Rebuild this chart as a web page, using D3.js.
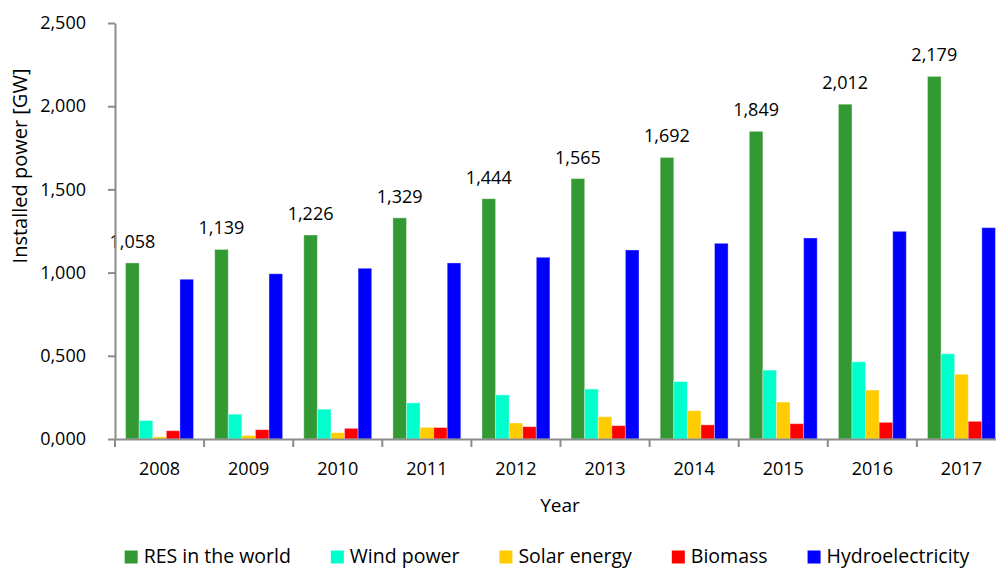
<!DOCTYPE html>
<html>
<head>
<meta charset="utf-8">
<script src="https://cdn.jsdelivr.net/npm/d3@7"></script>
<style>
  html, body { margin: 0; padding: 0; background: #ffffff; }
  svg { display: block; font-family: "Open Sans", "Noto Sans", sans-serif; }
</style>
</head>
<body>
<svg id="chart" width="996" height="568"></svg>
<script>
// ---- data ----
const years = ["2008", "2009", "2010", "2011", "2012", "2013", "2014", "2015", "2016", "2017"];
const seriesNames = ["RES in the world", "Wind power", "Solar energy", "Biomass", "Hydroelectricity"];
const resWorld = [1058, 1139, 1226, 1329, 1444, 1565, 1692, 1849, 2012, 2179];
const windPower = [111, 149, 179, 217, 265, 300, 345, 414, 464, 512];
const solarEnergy = [13, 21, 38, 70, 96, 134, 170, 222, 294, 389];
const biomass = [50, 56, 64, 69, 74, 80, 85, 92, 100, 106];
const hydro = [960, 993, 1026, 1058, 1092, 1136, 1176, 1208, 1248, 1270];
const seriesColors = ["#339933", "#00ffcc", "#ffcc00", "#ff0000", "#0000ff"];
const yTickValues = [0, 500, 1000, 1500, 2000, 2500];
const yTickLabels = ["0,000", "0,500", "1,000", "1,500", "2,000", "2,500"];
const yTitle = "Installed power  [GW]";
const xTitle = "Year";

const seriesValues = [resWorld, windPower, solarEnergy, biomass, hydro];

// ---- layout ----
const svg = d3.select("#chart");
const plot = { left: 115, right: 1006, top: 23, bottom: 439 };
const axisColor = "#8c8c8c";

const x0 = d3.scaleBand().domain(years).range([plot.left, plot.right]).paddingInner(0).paddingOuter(0);
const x1 = d3.scaleBand().domain(seriesNames).range([0, x0.bandwidth()]).paddingInner(0).paddingOuter(0.78);
const y = d3.scaleLinear().domain([0, 2500]).range([plot.bottom, plot.top]);

// bars
const groups = svg.append("g").selectAll("g")
  .data(years).join("g")
  .attr("transform", d => `translate(${x0(d)},0)`);

groups.selectAll("rect")
  .data((yr, i) => seriesNames.map((s, k) => ({ s, k, v: seriesValues[k][i] })))
  .join("rect")
  .attr("x", d => x1(d.s))
  .attr("width", x1.bandwidth())
  .attr("y", d => y(d.v))
  .attr("height", d => y(0) - y(d.v))
  .attr("fill", d => seriesColors[d.k])
  .attr("stroke", "rgba(255,255,255,0.35)")
  .attr("stroke-width", 1);

// value labels on RES bars
svg.append("g").selectAll("text")
  .data(years).join("text")
  .attr("x", (d) => x0(d) + x1(seriesNames[0]) + x1.bandwidth() / 2)
  .attr("y", (d, i) => y(resWorld[i]) - 15)
  .attr("text-anchor", "middle")
  .attr("font-size", 18)
  .attr("fill", "#000")
  .text((d, i) => d3.format(",")(resWorld[i]));

// y axis
const yAxis = svg.append("g")
  .attr("transform", `translate(${plot.left},0)`)
  .call(d3.axisLeft(y).tickValues(yTickValues).tickFormat((d, i) => yTickLabels[i]).tickSize(7).tickSizeOuter(0).tickPadding(22));
yAxis.select(".domain").attr("stroke", axisColor).attr("stroke-width", 2);
yAxis.selectAll(".tick line").attr("stroke", axisColor).attr("stroke-width", 2);
yAxis.selectAll(".tick text").attr("font-size", 18).attr("fill", "#000").attr("font-family", "Open Sans");

// x axis
const xAxis = svg.append("g")
  .attr("transform", `translate(0,${plot.bottom})`)
  .call(d3.axisBottom(x0).tickSize(0).tickSizeOuter(0).tickPadding(23));
xAxis.select(".domain").attr("stroke", axisColor).attr("stroke-width", 2);
xAxis.selectAll(".tick text").attr("font-size", 18).attr("fill", "#000").attr("font-family", "Open Sans");
// tick marks at band boundaries
xAxis.append("g").selectAll("line")
  .data(years).join("line")
  .attr("x1", d => x0(d)).attr("x2", d => x0(d))
  .attr("y1", 0).attr("y2", 8)
  .attr("stroke", axisColor).attr("stroke-width", 2);

// axis titles
svg.append("text")
  .attr("transform", `translate(27,166) rotate(-90)`)
  .attr("text-anchor", "middle")
  .attr("font-size", 20)
  .attr("fill", "#000")
  .text(yTitle);

svg.append("text")
  .attr("x", 560).attr("y", 512)
  .attr("text-anchor", "middle")
  .attr("font-size", 19)
  .attr("fill", "#000")
  .text(xTitle);

// legend
const legend = svg.append("g");
const items = legend.selectAll("g").data(seriesNames).join("g");
items.append("rect")
  .attr("width", 13).attr("height", 13)
  .attr("y", 550.5)
  .attr("fill", (d, i) => seriesColors[i]);
items.append("text")
  .attr("x", 19).attr("y", 563)
  .attr("font-size", 19.5)
  .attr("fill", "#000")
  .text(d => d);
let cx = 0;
const gap = 40;
const offsets = [];
items.each(function () {
  const w = 19 + d3.select(this).select("text").node().getComputedTextLength();
  offsets.push(cx);
  cx += w + gap;
});
const total = cx - gap;
const startX = 547 - total / 2;
items.attr("transform", (d, i) => `translate(${startX + offsets[i]},0)`);
</script>
</body>
</html>
